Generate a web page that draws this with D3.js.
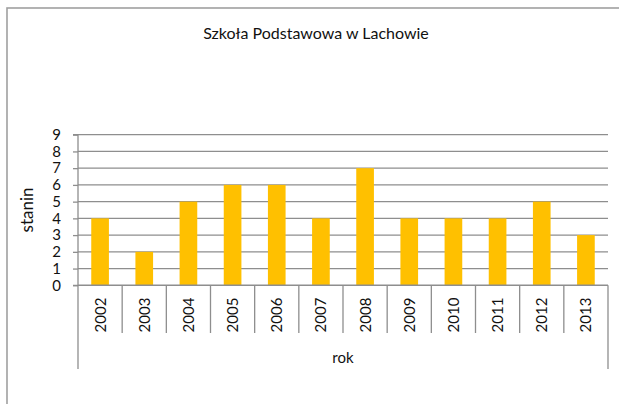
<!DOCTYPE html>
<html>
<head>
<meta charset="utf-8">
<script src="https://cdn.jsdelivr.net/npm/d3@7"></script>
<style>
  body { margin: 0; background: #fff; }
  svg { display: block; font-family: Lato, "Open Sans", sans-serif; }
</style>
</head>
<body>
<svg id="chart"></svg>
<script>
// data
const years = ["2002", "2003", "2004", "2005", "2006", "2007", "2008", "2009", "2010", "2011", "2012", "2013"];
const stanin = [4, 2, 5, 6, 6, 4, 7, 4, 4, 4, 5, 3];
const yTicks = [0, 1, 2, 3, 4, 5, 6, 7, 8, 9];

const width = 619;
const height = 404;
const plotLeft = 78, plotRight = 608, plotTop = 134.7, plotBottom = 285.3;

const svg = d3.select("#chart").attr("width", width).attr("height", height);

// outer frame (top + left visible)
svg.append("rect")
  .attr("x", 7).attr("y", 8)
  .attr("width", 620).attr("height", 410)
  .attr("fill", "none").attr("stroke", "#a0a0a0").attr("stroke-width", 1.6);

svg.append("text")
  .attr("x", 316).attr("y", 39)
  .attr("text-anchor", "middle")
  .attr("font-size", 16)
  .attr("fill", "#111")
  .text("Szkoła Podstawowa w Lachowie");

const xScale = d3.scaleBand().domain(years).range([plotLeft, plotRight]).paddingInner(0.6).paddingOuter(0.3);
const xCells = d3.scaleBand().domain(years).range([plotLeft, plotRight]);
const yScale = d3.scaleLinear().domain([0, 9]).range([plotBottom, plotTop]);

// gridlines
svg.append("g")
  .selectAll("line")
  .data(yTicks.slice(1))
  .enter()
  .append("line")
  .attr("x1", plotLeft).attr("x2", plotRight)
  .attr("y1", (d) => yScale(d)).attr("y2", (d) => yScale(d))
  .attr("stroke", "#8e8e8e").attr("stroke-width", 1.3);

// bars
svg.append("g")
  .selectAll("rect")
  .data(stanin)
  .enter()
  .append("rect")
  .attr("x", (d, i) => xScale(years[i]))
  .attr("width", xScale.bandwidth())
  .attr("y", (d) => yScale(d))
  .attr("height", (d) => plotBottom - yScale(d))
  .attr("fill", "#ffc000");

// y axis
const yAxis = d3.axisLeft(yScale).tickValues(yTicks).tickSize(5).tickPadding(12);
const gy = svg.append("g").attr("transform", "translate(" + plotLeft + ",0)").call(yAxis);
gy.selectAll("path, line").attr("stroke", "#8e8e8e").attr("stroke-width", 1.3);
gy.select(".domain").attr("d", "M-5," + plotTop + "H0V" + plotBottom + "H-5");
gy.selectAll("text").attr("font-size", 15).attr("font-family", "Lato, sans-serif").attr("fill", "#111");

svg.append("text")
  .attr("transform", "translate(33," + ((plotTop + plotBottom) / 2) + ") rotate(-90)")
  .attr("text-anchor", "middle")
  .attr("font-size", 17)
  .attr("fill", "#111")
  .text("stanin");

// x axis with category cells
const gx = svg.append("g");
gx.append("line")
  .attr("x1", plotLeft).attr("x2", plotRight)
  .attr("y1", plotBottom).attr("y2", plotBottom)
  .attr("stroke", "#8e8e8e").attr("stroke-width", 1.5);
gx.selectAll("line.sep")
  .data(years.slice(1))
  .enter()
  .append("line")
  .attr("class", "sep")
  .attr("x1", (d) => xCells(d)).attr("x2", (d) => xCells(d))
  .attr("y1", plotBottom).attr("y2", 333)
  .attr("stroke", "#8e8e8e").attr("stroke-width", 1.3);
[plotLeft, plotRight].forEach((x) => {
  gx.append("line")
    .attr("x1", x).attr("x2", x)
    .attr("y1", plotBottom).attr("y2", 369)
    .attr("stroke", "#8e8e8e").attr("stroke-width", 1.3);
});
gx.selectAll("text.year")
  .data(years)
  .enter()
  .append("text")
  .attr("class", "year")
  .attr("transform", (d) => "translate(" + (xCells(d) + xCells.bandwidth() / 2 + 5.5) + ",315) rotate(-90)")
  .attr("text-anchor", "middle")
  .attr("font-size", 15)
  .attr("fill", "#111")
  .text((d) => d);

svg.append("text")
  .attr("x", (plotLeft + plotRight) / 2)
  .attr("y", 363)
  .attr("text-anchor", "middle")
  .attr("font-size", 15)
  .attr("fill", "#111")
  .text("rok");
</script>
</body>
</html>
